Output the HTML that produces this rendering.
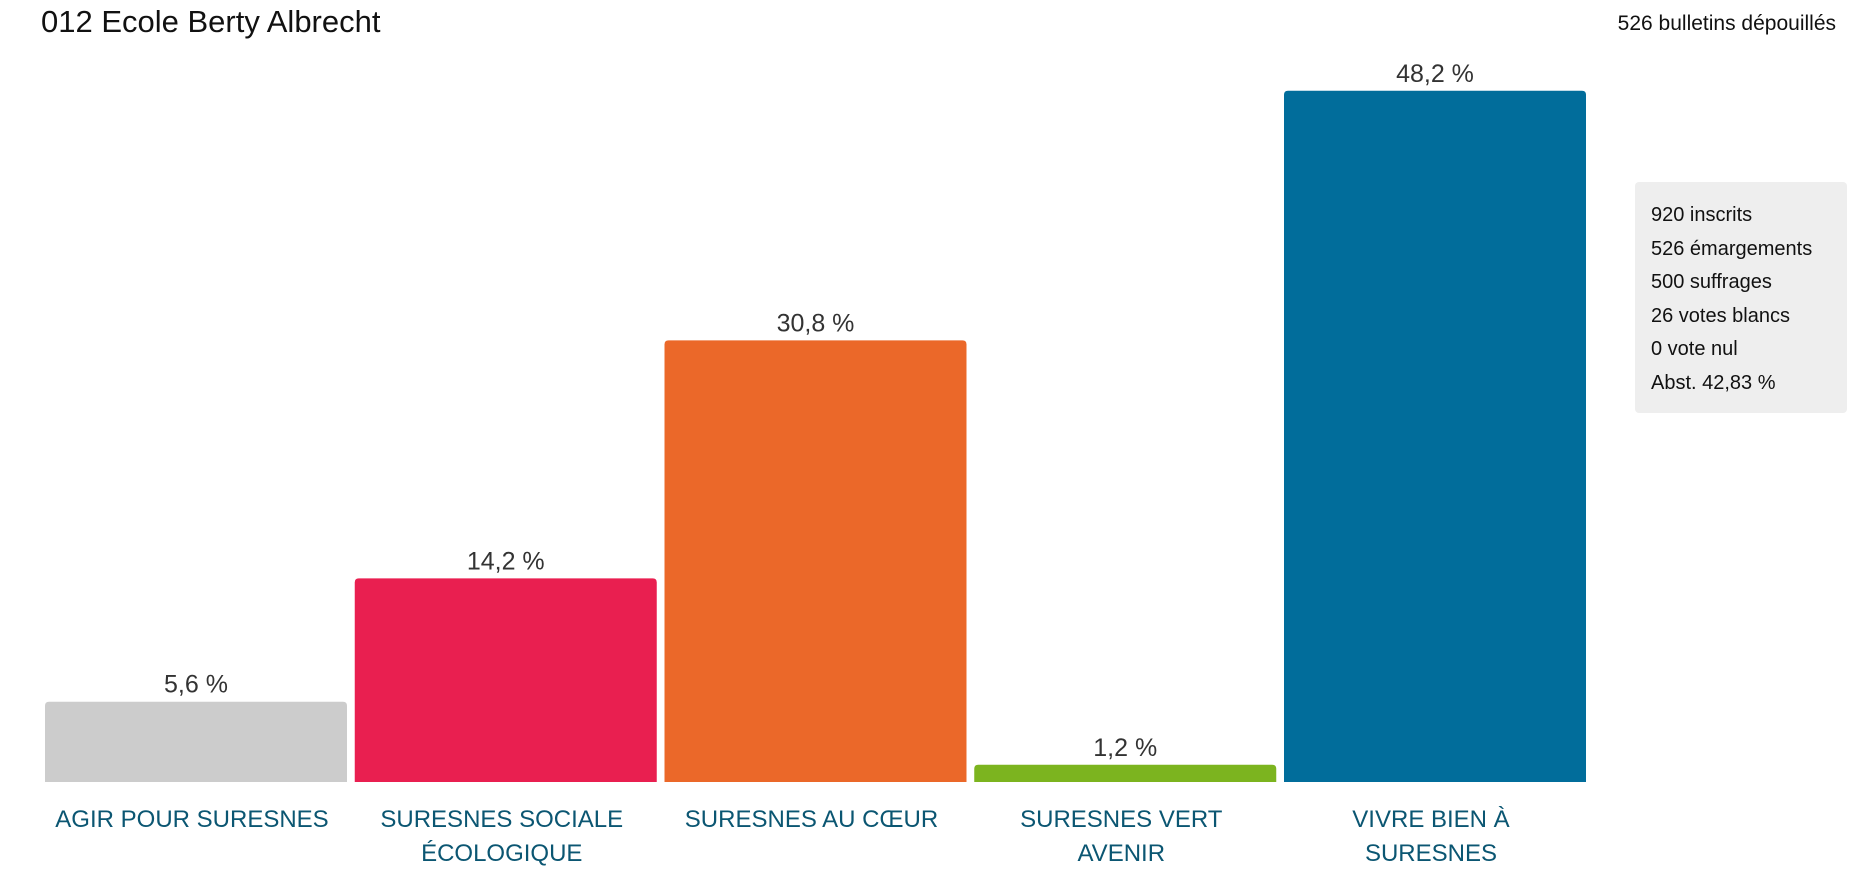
<!DOCTYPE html>
<html><head><meta charset="utf-8">
<style>
html,body{margin:0;padding:0;background:#fff;width:1863px;height:871px;overflow:hidden;font-family:"Liberation Sans",sans-serif;}
svg{display:block}
</style></head>
<body>
<svg id="chart" width="1863" height="871" xmlns="http://www.w3.org/2000/svg" font-family="Liberation Sans, sans-serif">
  <text x="41" y="32" font-size="31" fill="#111">012 Ecole Berty Albrecht</text>
  <text x="1836" y="30" font-size="21" fill="#111" text-anchor="end">526 bulletins dépouillés</text>
  <g>
    <rect x="1635" y="182" width="212" height="231" rx="4" fill="#eeeeee"/>
    <text x="1651" y="221" font-size="20" fill="#111">920 inscrits</text>
    <text x="1651" y="255" font-size="20" fill="#111">526 émargements</text>
    <text x="1651" y="288" font-size="20" fill="#111">500 suffrages</text>
    <text x="1651" y="322" font-size="20" fill="#111">26 votes blancs</text>
    <text x="1651" y="355" font-size="20" fill="#111">0 vote nul</text>
    <text x="1651" y="389" font-size="20" fill="#111">Abst. 42,83 %</text>
  </g>
  <g id="bars"></g>
</svg>
<script>
const categories = [["AGIR POUR SURESNES"],["SURESNES SOCIALE","ÉCOLOGIQUE"],["SURESNES AU CŒUR"],["SURESNES VERT","AVENIR"],["VIVRE BIEN À","SURESNES"]];
const values = [5.6, 14.2, 30.8, 1.2, 48.2];
const valueLabels = ["5,6 %","14,2 %","30,8 %","1,2 %","48,2 %"];
const colors = ["#cccccc","#e91f50","#eb6829","#7cb41f","#016d9b"];

const NS="http://www.w3.org/2000/svg";
const g=document.getElementById('bars');
const baseY=782, plotLeft=45, step=309.75, barW=302, pxPer=14.34;
const x=i=>plotLeft+i*step;
const y=v=>baseY-v*pxPer;
values.forEach((v,i)=>{
  const r=document.createElementNS(NS,'path');
  const x0=x(i), y0=y(v), rr=4;
  r.setAttribute('d',`M${x0},${baseY}V${y0+rr}Q${x0},${y0} ${x0+rr},${y0}H${x0+barW-rr}Q${x0+barW},${y0} ${x0+barW},${y0+rr}V${baseY}Z`);
  r.setAttribute('fill',colors[i]);
  
  
  g.appendChild(r);
  const t=document.createElementNS(NS,'text');
  t.setAttribute('x',x0+barW/2);t.setAttribute('y',y0-9);
  t.setAttribute('text-anchor','middle');t.setAttribute('font-size','25');t.setAttribute('fill','#333');
  t.textContent=valueLabels[i];
  
  
  g.appendChild(t);
  categories[i].forEach((line,j)=>{
    const c=document.createElementNS(NS,'text');
    c.setAttribute('x',x0+barW/2-4);c.setAttribute('y',827+j*34);
    c.setAttribute('text-anchor','middle');c.setAttribute('font-size','24');c.setAttribute('fill','#0b5672');
    c.textContent=line;
    
    
    g.appendChild(c);
  });
});
</script>
</body></html>
